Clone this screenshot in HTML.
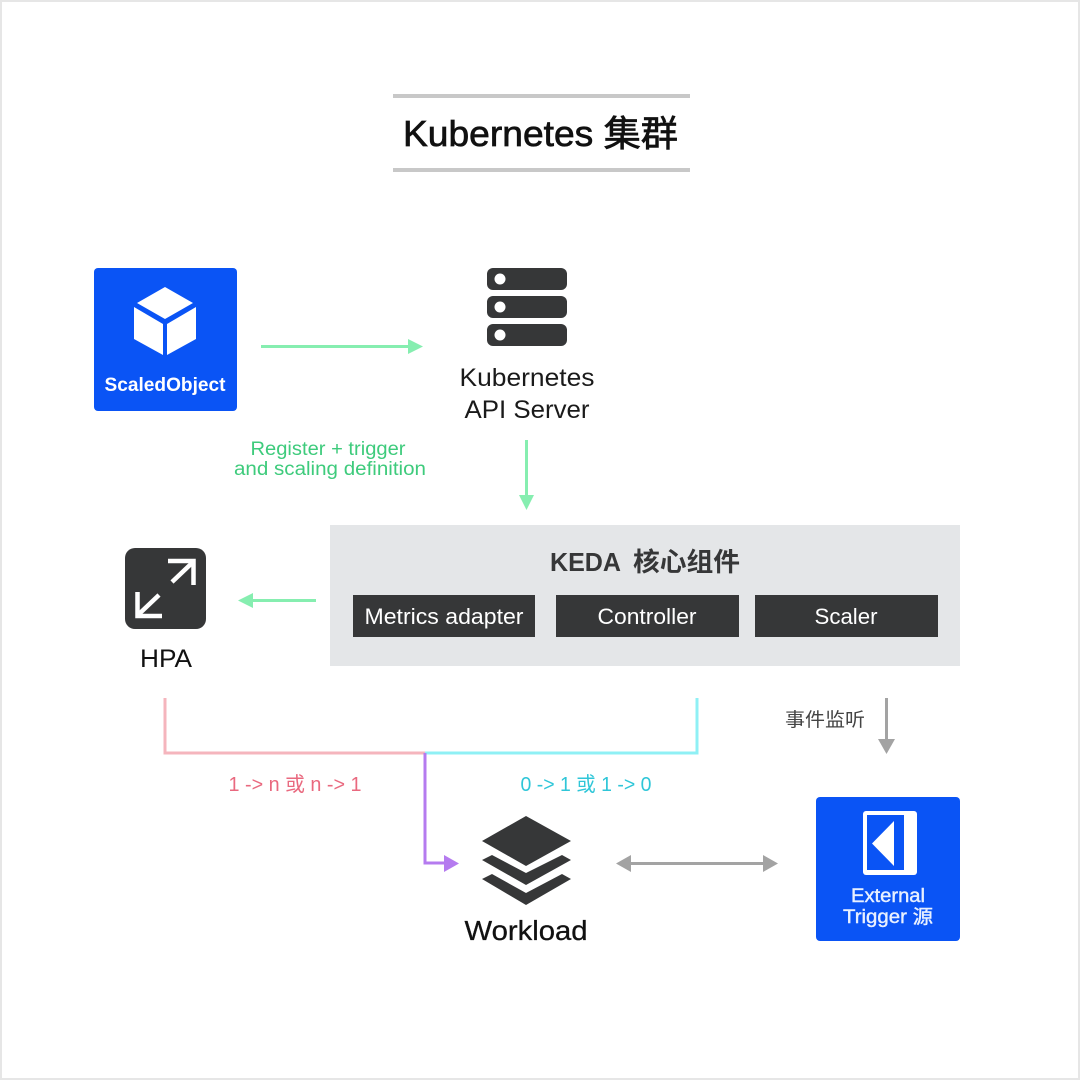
<!DOCTYPE html>
<html>
<head>
<meta charset="utf-8">
<style>
html,body{margin:0;padding:0;background:#fff;}
svg{display:block;}
text{font-family:"Liberation Sans","Noto Sans CJK SC",sans-serif;}
</style>
</head>
<body>
<svg width="1080" height="1080" viewBox="0 0 1080 1080" xmlns="http://www.w3.org/2000/svg">
<rect x="0" y="0" width="1080" height="1080" fill="#fff"/>
<rect x="1" y="1" width="1078" height="1078" fill="none" stroke="#e6e6e6" stroke-width="2"/>

<!-- Title -->
<rect x="393" y="94" width="297" height="4" fill="#c8c8c8"/>
<rect x="393" y="168" width="297" height="4" fill="#c8c8c8"/>
<text x="403" y="146" font-size="36" fill="#111" stroke="#111" stroke-width="0.7" textLength="275" lengthAdjust="spacingAndGlyphs">Kubernetes 集群</text>

<!-- ScaledObject -->
<rect x="94" y="268" width="143" height="143" rx="4" fill="#0a54f5"/>
<polygon points="165,287 193,303 165,319 137,303" fill="#fff"/>
<polygon points="134,307 163,324 163,355 134,339" fill="#fff"/>
<polygon points="196,307 167,324 167,355 196,339" fill="#fff"/>
<text x="165" y="391" font-size="19" font-weight="bold" fill="#fff" text-anchor="middle" textLength="121" lengthAdjust="spacingAndGlyphs">ScaledObject</text>

<!-- Arrow to API server -->
<rect x="261" y="345" width="148" height="3" fill="#86eeb0"/>
<polygon points="408,339 423,346.500 408,354" fill="#86eeb0"/>

<!-- API server -->
<rect x="487" y="268" width="80" height="22" rx="6" fill="#363738"/>
<rect x="487" y="296" width="80" height="22" rx="6" fill="#363738"/>
<rect x="487" y="324" width="80" height="22" rx="6" fill="#363738"/>
<circle cx="500" cy="279" r="5.500" fill="#fff"/>
<circle cx="500" cy="307" r="5.500" fill="#fff"/>
<circle cx="500" cy="335" r="5.500" fill="#fff"/>
<text x="527" y="386" font-size="25" fill="#1a1a1a" text-anchor="middle" textLength="135" lengthAdjust="spacingAndGlyphs">Kubernetes</text>
<text x="527" y="418" font-size="25" fill="#1a1a1a" text-anchor="middle" textLength="125" lengthAdjust="spacingAndGlyphs">API Server</text>

<!-- Register label -->
<text x="328" y="455" font-size="19" fill="#3ecb7c" text-anchor="middle" textLength="155" lengthAdjust="spacingAndGlyphs">Register + trigger</text>
<text x="330" y="475" font-size="19" fill="#3ecb7c" text-anchor="middle" textLength="192" lengthAdjust="spacingAndGlyphs">and scaling definition</text>

<!-- Arrow down to KEDA -->
<rect x="525" y="440" width="3" height="56" fill="#86eeb0"/>
<polygon points="519,495 534,495 526.500,510" fill="#86eeb0"/>

<!-- KEDA -->
<rect x="330" y="525" width="630" height="141" fill="#e4e6e8"/>
<text x="550" y="571" font-size="26" font-weight="bold" fill="#363738" textLength="71" lengthAdjust="spacingAndGlyphs">KEDA</text>
<text x="633" y="571" font-size="26" font-weight="bold" fill="#363738" textLength="107" lengthAdjust="spacingAndGlyphs">核心组件</text>
<rect x="353" y="595" width="182" height="42" fill="#363738"/>
<rect x="556" y="595" width="183" height="42" fill="#363738"/>
<rect x="755" y="595" width="183" height="42" fill="#363738"/>
<text x="444" y="624" font-size="22" fill="#fff" text-anchor="middle" textLength="159" lengthAdjust="spacingAndGlyphs">Metrics adapter</text>
<text x="647" y="624" font-size="22" fill="#fff" text-anchor="middle" textLength="99" lengthAdjust="spacingAndGlyphs">Controller</text>
<text x="846" y="624" font-size="22" fill="#fff" text-anchor="middle" textLength="63" lengthAdjust="spacingAndGlyphs">Scaler</text>

<!-- Arrow to HPA -->
<rect x="252" y="599" width="64" height="3" fill="#86eeb0"/>
<polygon points="253,593 253,608 238,600.500" fill="#86eeb0"/>

<!-- HPA -->
<rect x="125" y="548" width="81" height="81" rx="10" fill="#363738"/>
<g stroke="#fff" stroke-width="4.500" fill="none">
<path d="M168,561 H193.500 V585"/>
<path d="M192,563 L172,582"/>
<path d="M137.500,592 V616 H162"/>
<path d="M139,614 L159,595"/>
</g>
<text x="166" y="667" font-size="25" fill="#111" text-anchor="middle" textLength="52" lengthAdjust="spacingAndGlyphs">HPA</text>

<!-- Connectors -->
<path d="M165,698 V753 H425" fill="none" stroke="#f5b5bd" stroke-width="3"/>
<path d="M697,698 V753 H425" fill="none" stroke="#8ff0f5" stroke-width="3"/>
<path d="M425,753 V863 H446" fill="none" stroke="#b57bef" stroke-width="3"/>
<polygon points="444,855 459,863.500 444,872" fill="#b57bef"/>

<text x="295" y="791" font-size="20" fill="#e9697f" text-anchor="middle" textLength="133" lengthAdjust="spacingAndGlyphs">1 -&gt; n 或 n -&gt; 1</text>
<text x="586" y="791" font-size="20" fill="#2fc6d8" text-anchor="middle" textLength="131" lengthAdjust="spacingAndGlyphs">0 -&gt; 1 或 1 -&gt; 0</text>

<!-- Workload -->
<polygon points="526,816 571,841 526,866 482,841" fill="#363738"/>
<polygon points="482,860 492,855 526,873 562,855 571,860 526,885" fill="#363738"/>
<polygon points="482,879 492,874 526,893 562,874 571,879 526,905" fill="#363738"/>
<text x="526" y="940" font-size="28" fill="#111" stroke="#111" stroke-width="0.3" text-anchor="middle" textLength="123" lengthAdjust="spacingAndGlyphs">Workload</text>

<!-- Double arrow -->
<rect x="630" y="862" width="134" height="3" fill="#a3a3a3"/>
<polygon points="631,855 631,872 616,863.500" fill="#a3a3a3"/>
<polygon points="763,855 763,872 778,863.500" fill="#a3a3a3"/>

<!-- Event listen -->
<text x="825" y="726" font-size="19" fill="#444" text-anchor="middle" textLength="80" lengthAdjust="spacingAndGlyphs">事件监听</text>
<rect x="885" y="698" width="3" height="42" fill="#a3a3a3"/>
<polygon points="878,739 895,739 886.500,754" fill="#a3a3a3"/>

<!-- External Trigger -->
<rect x="816" y="797" width="144" height="144" rx="4" fill="#0a54f5"/>
<rect x="863" y="811" width="54" height="64" rx="3" fill="#fff"/>
<rect x="867" y="815" width="37" height="55" fill="#0a54f5"/>
<polygon points="894,821 894,866 872,843.500" fill="#fff"/>
<text x="888" y="902" font-size="19" fill="#e8f0ff" stroke="#e8f0ff" stroke-width="0.4" text-anchor="middle" textLength="74" lengthAdjust="spacingAndGlyphs">External</text>
<text x="888" y="923" font-size="19" fill="#e8f0ff" stroke="#e8f0ff" stroke-width="0.4" text-anchor="middle" textLength="90" lengthAdjust="spacingAndGlyphs">Trigger 源</text>
</svg>
</body>
</html>
